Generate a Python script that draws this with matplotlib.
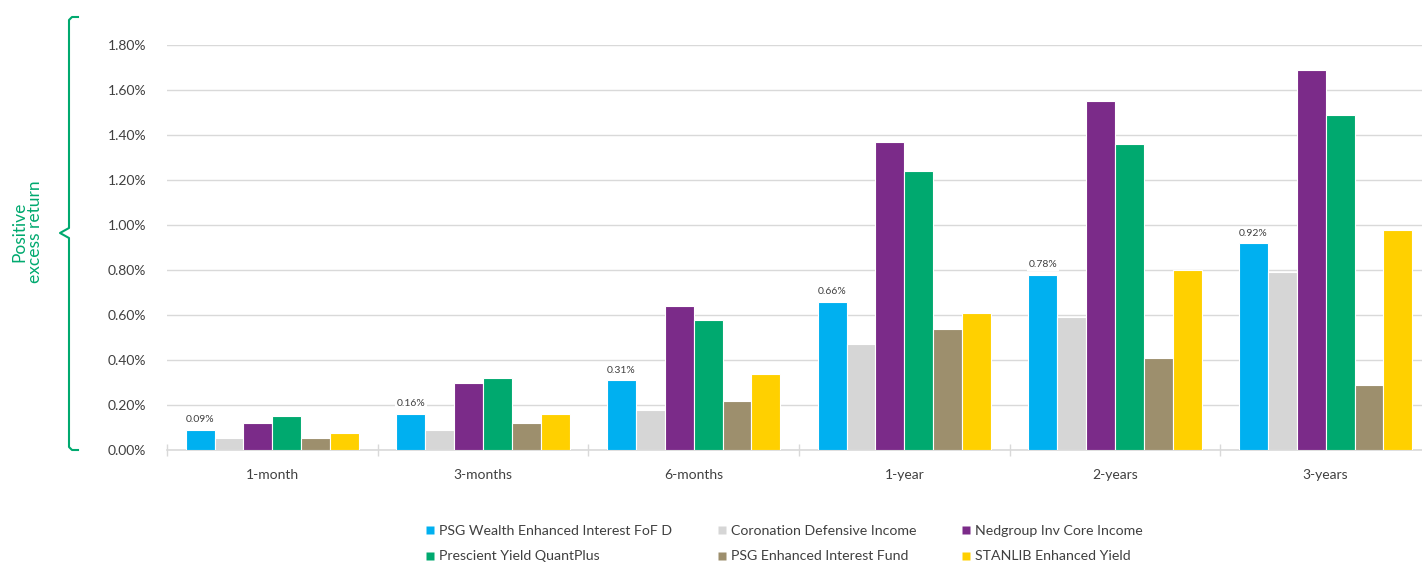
import matplotlib
matplotlib.use('Agg')
import matplotlib.pyplot as plt
import numpy as np
from matplotlib.ticker import FuncFormatter, MultipleLocator
from matplotlib.lines import Line2D

plt.rcParams['font.family'] = ['Lato', 'DejaVu Sans']

categories = ['1-month', '3-months', '6-months', '1-year', '2-years', '3-years']
series_names = ['PSG Wealth Enhanced Interest FoF D', 'Coronation Defensive Income',
                'Nedgroup Inv Core Income', 'Prescient Yield QuantPlus',
                'PSG Enhanced Interest Fund', 'STANLIB Enhanced Yield']
psg_wealth = [0.09, 0.16, 0.31, 0.66, 0.78, 0.92]
coronation = [0.053, 0.089, 0.18, 0.47, 0.59, 0.79]
nedgroup = [0.12, 0.30, 0.64, 1.37, 1.55, 1.69]
prescient = [0.15, 0.32, 0.58, 1.24, 1.36, 1.49]
psg_enhanced = [0.053, 0.12, 0.22, 0.54, 0.41, 0.29]
stanlib = [0.074, 0.16, 0.34, 0.61, 0.80, 0.98]
series = [psg_wealth, coronation, nedgroup, prescient, psg_enhanced, stanlib]
colors = ['#00B0F0', '#D6D6D6', '#7B2B89', '#00A96F', '#9D8F6D', '#FFD000']

W, H = 1422, 563
fig = plt.figure(figsize=(W / 100, H / 100), dpi=100)
ax = fig.add_axes([167 / W, 113 / H, (1431 - 167) / W, (450 - 45) / H])

x = np.arange(len(categories))
bw = 0.137
for i, (vals, c) in enumerate(zip(series, colors)):
    ax.bar(x + (i - 2.5) * bw, vals, width=bw, color=c, edgecolor='white',
           linewidth=0.8, zorder=3)

for xi, v in zip(x, psg_wealth):
    ax.annotate(f'{v:.2f}%', (xi - 2.5 * bw, v), xytext=(0, 10),
                textcoords='offset pixels',
                ha='center', va='center', fontsize=7.5, color='#404040',
                bbox=dict(boxstyle='square,pad=0.15', fc='white', ec='none'),
                zorder=4)

ax.set_xlim(-0.5, len(categories) - 0.5)
ax.set_ylim(0, 1.8)
ax.yaxis.set_major_locator(MultipleLocator(0.2))
ax.yaxis.set_major_formatter(FuncFormatter(lambda v, p: f'{v:.2f}%'))
ax.grid(axis='y', color='#D9D9D9', linewidth=1, zorder=0)
for s in ['top', 'right', 'left']:
    ax.spines[s].set_visible(False)
ax.spines['bottom'].set_color('#D9D9D9')
ax.spines['bottom'].set_linewidth(1.2)

ax.set_xticks(np.arange(-0.5, len(categories), 1))
ax.set_xticklabels([])
ax.tick_params(axis='x', which='major', direction='inout', length=8,
               color='#D9D9D9', width=1)
ax.set_xticks(x, minor=True)
ax.set_xticklabels(categories, minor=True)
ax.tick_params(axis='x', which='minor', length=0, pad=14, labelsize=10,
               labelcolor='#404040')
ax.tick_params(axis='y', length=0, pad=15, labelsize=10, labelcolor='#404040')

# legend (row-major order)
handles = [Line2D([], [], marker='s', linestyle='none', markersize=6,
                  markerfacecolor=c, markeredgecolor='none') for c in colors]
order = [0, 3, 1, 4, 2, 5]
leg = fig.legend([handles[k] for k in order], [series_names[k] for k in order],
                 ncol=3, loc='upper left', bbox_to_anchor=(426 / W, 1 - 525 / H),
                 frameon=False, fontsize=10.2, handlelength=0.6, handletextpad=0.3,
                 columnspacing=3.25, labelspacing=0.95, borderaxespad=0,
                 borderpad=0)
for t in leg.get_texts():
    t.set_color('#404040')

# bracket on left
green = '#00A96F'
bx = [78, 72, 69, 69, 60, 69, 69, 72, 78]
by = [17, 17, 20, 228, 233, 238, 447, 450, 450]
fig.add_artist(Line2D([v / W for v in bx], [1 - v / H for v in by],
                      color=green, linewidth=1.5, transform=fig.transFigure))
fig.text(27 / W, 1 - 232 / H, 'Positive\nexcess return', rotation=90,
         ha='center', va='center', color=green, fontsize=12.5, linespacing=0.95,
         multialignment='center')

fig.savefig('out.png', dpi=100)
